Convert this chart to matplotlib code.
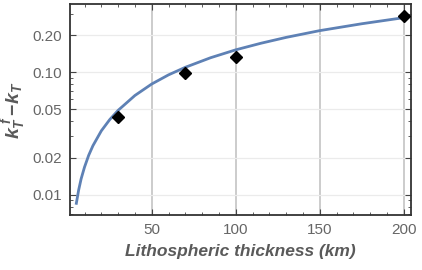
# k_T^f - k_T against lithospheric thickness, log y

import matplotlib
matplotlib.use('Agg')
import matplotlib.pyplot as plt
from matplotlib.ticker import FixedLocator, MultipleLocator, LogLocator, NullFormatter

# fitted curve
curve_x = [5, 6.5, 8, 10, 12.5, 15, 20, 25, 30, 40, 50, 60, 70, 85, 100, 115, 130, 150, 175, 200]
curve_y = [0.0083, 0.0109, 0.0135, 0.0168, 0.0210, 0.0251, 0.0332, 0.0410, 0.0488, 0.0645,
           0.0800, 0.0950, 0.1095, 0.131, 0.152, 0.172, 0.192, 0.218, 0.248, 0.278]

# measured points
points_x = [30, 70, 100, 200]
points_y = [0.0428, 0.098, 0.134, 0.286]

x_ticks = [50, 100, 150, 200]
y_ticks = [0.01, 0.02, 0.05, 0.10, 0.20]
y_tick_labels = ['0.01', '0.02', '0.05', '0.10', '0.20']

plt.rcParams['font.family'] = ['Liberation Sans', 'DejaVu Sans']
plt.rcParams['mathtext.fontset'] = 'custom'
plt.rcParams['mathtext.it'] = 'Liberation Sans:italic:bold'
plt.rcParams['mathtext.rm'] = 'Liberation Sans:bold'

label_gray = '#5a5a5a'
tick_gray = '#666666'

fig = plt.figure(figsize=(4.22, 2.70), dpi=100)
ax = fig.add_axes([0.166, 0.204, 0.808, 0.781])

ax.set_yscale('log')
ax.set_xlim(1.4, 204.3)
ax.set_ylim(0.00685, 0.359)

# grid: darker verticals, very light horizontals
for gx in x_ticks:
    ax.axvline(gx, color='#c4c4c4', lw=1.2, zorder=0)
for gy in y_ticks:
    ax.axhline(gy, color='#ebebeb', lw=0.9, zorder=0)

ax.plot(curve_x, curve_y, color='#5e81b5', lw=2.0, solid_capstyle='butt', zorder=2)
ax.plot(points_x, points_y, 'D', color='black', ms=6.5, zorder=3)

ax.xaxis.set_major_locator(FixedLocator(x_ticks))
ax.xaxis.set_minor_locator(MultipleLocator(10))
ax.yaxis.set_major_locator(FixedLocator(y_ticks))
ax.set_yticklabels(y_tick_labels)
ax.yaxis.set_minor_locator(LogLocator(base=10, subs=[1, 2, 3, 4, 5, 6, 7, 8, 9]))
ax.yaxis.set_minor_formatter(NullFormatter())

ax.tick_params(which='both', direction='in', top=True, right=True,
               color='#444444', labelcolor=tick_gray, labelsize=11)
ax.tick_params(which='major', length=4, width=0.8, pad=6)
ax.tick_params(which='minor', length=2, width=0.6)

for s in ax.spines.values():
    s.set_color('#333333')
    s.set_linewidth(1.3)

ax.set_xlabel('Lithospheric thickness (km)', fontsize=12.5, fontweight='bold',
              fontstyle='italic', color=label_gray, labelpad=5)
ax.set_ylabel(r'$k_T^{\;f}\,\!-\!k_T$', fontsize=14, color=label_gray, labelpad=3)

fig.savefig('out.png', dpi=100)
